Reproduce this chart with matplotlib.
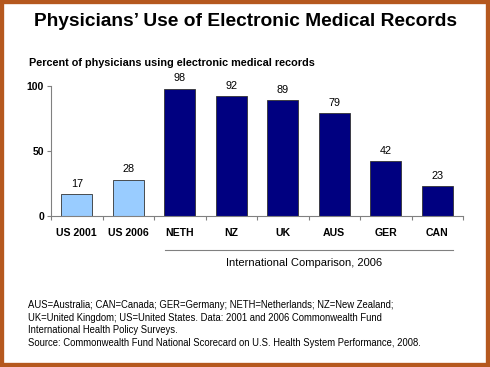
import matplotlib
matplotlib.use('Agg')
import matplotlib.pyplot as plt
from matplotlib.patches import Rectangle

categories = ['US 2001', 'US 2006', 'NETH', 'NZ', 'UK', 'AUS', 'GER', 'CAN']
values = [17, 28, 98, 92, 89, 79, 42, 23]
us_color = '#99CCFF'
intl_color = '#000080'
colors = [us_color, us_color] + [intl_color] * 6

title = 'Physicians\u2019 Use of Electronic Medical Records'
subtitle = 'Percent of physicians using electronic medical records'
group_label = 'International Comparison, 2006'
notes = ('AUS=Australia; CAN=Canada; GER=Germany; NETH=Netherlands; NZ=New Zealand;\n'
         'UK=United Kingdom; US=United States. Data: 2001 and 2006 Commonwealth Fund\n'
         'International Health Policy Surveys.\n'
         'Source: Commonwealth Fund National Scorecard on U.S. Health System Performance, 2008.')

plt.rcParams['font.family'] = ['Liberation Sans', 'DejaVu Sans']

W, H = 490, 367
fig = plt.figure(figsize=(W / 100, H / 100), dpi=100)

# brown frame around the slide
fig.patches.append(Rectangle((0, 0), 1, 1, transform=fig.transFigure,
                             fill=False, edgecolor='#B5581E', linewidth=6))

def fx(px):
    return px / W

def fy(py):
    return 1 - py / H

ax = fig.add_axes([fx(51), fy(216), fx(463) - fx(51), fy(86) - fy(216)])
x = list(range(len(categories)))
ax.bar(x, values, width=0.6, color=colors, edgecolor='#333333', linewidth=0.6)
for xi, v in zip(x, values):
    ax.text(xi, v + 4, str(v), ha='center', va='bottom', fontsize=7.8)

ax.set_xlim(-0.5, len(categories) - 0.5)
ax.set_ylim(0, 100)
ax.set_yticks([0, 50, 100])
ax.tick_params(axis='y', labelsize=7.5, length=3, color='#808080', pad=2)
for lab in ax.get_yticklabels():
    lab.set_fontweight('bold')
ax.set_xticks([i - 0.5 for i in range(len(categories) + 1)])
ax.set_xticklabels([])
ax.tick_params(axis='x', length=3, color='#808080')
for xi, c in zip(x, categories):
    ax.text(xi, -13, c, ha='center', va='center', fontsize=7.6, fontweight='bold')
for s in ['top', 'right']:
    ax.spines[s].set_visible(False)
ax.spines['left'].set_color('#808080')
ax.spines['bottom'].set_color('#808080')

# bracket line under international group
fig.add_artist(plt.Line2D([fx(165), fx(453)], [fy(250), fy(250)], color='#808080', linewidth=0.8))
fig.text(fx(304), fy(263), group_label, ha='center', va='center', fontsize=8)

fig.text(0.5, fy(21), title, ha='center', va='center', fontsize=13.8, fontweight='bold')
fig.text(fx(29), fy(63), subtitle, ha='left', va='center', fontsize=7.8, fontweight='bold')
fig.text(fx(28), fy(300), notes, ha='left', va='top', fontsize=6.85, linespacing=1.33)

fig.savefig('out.png', dpi=100)
